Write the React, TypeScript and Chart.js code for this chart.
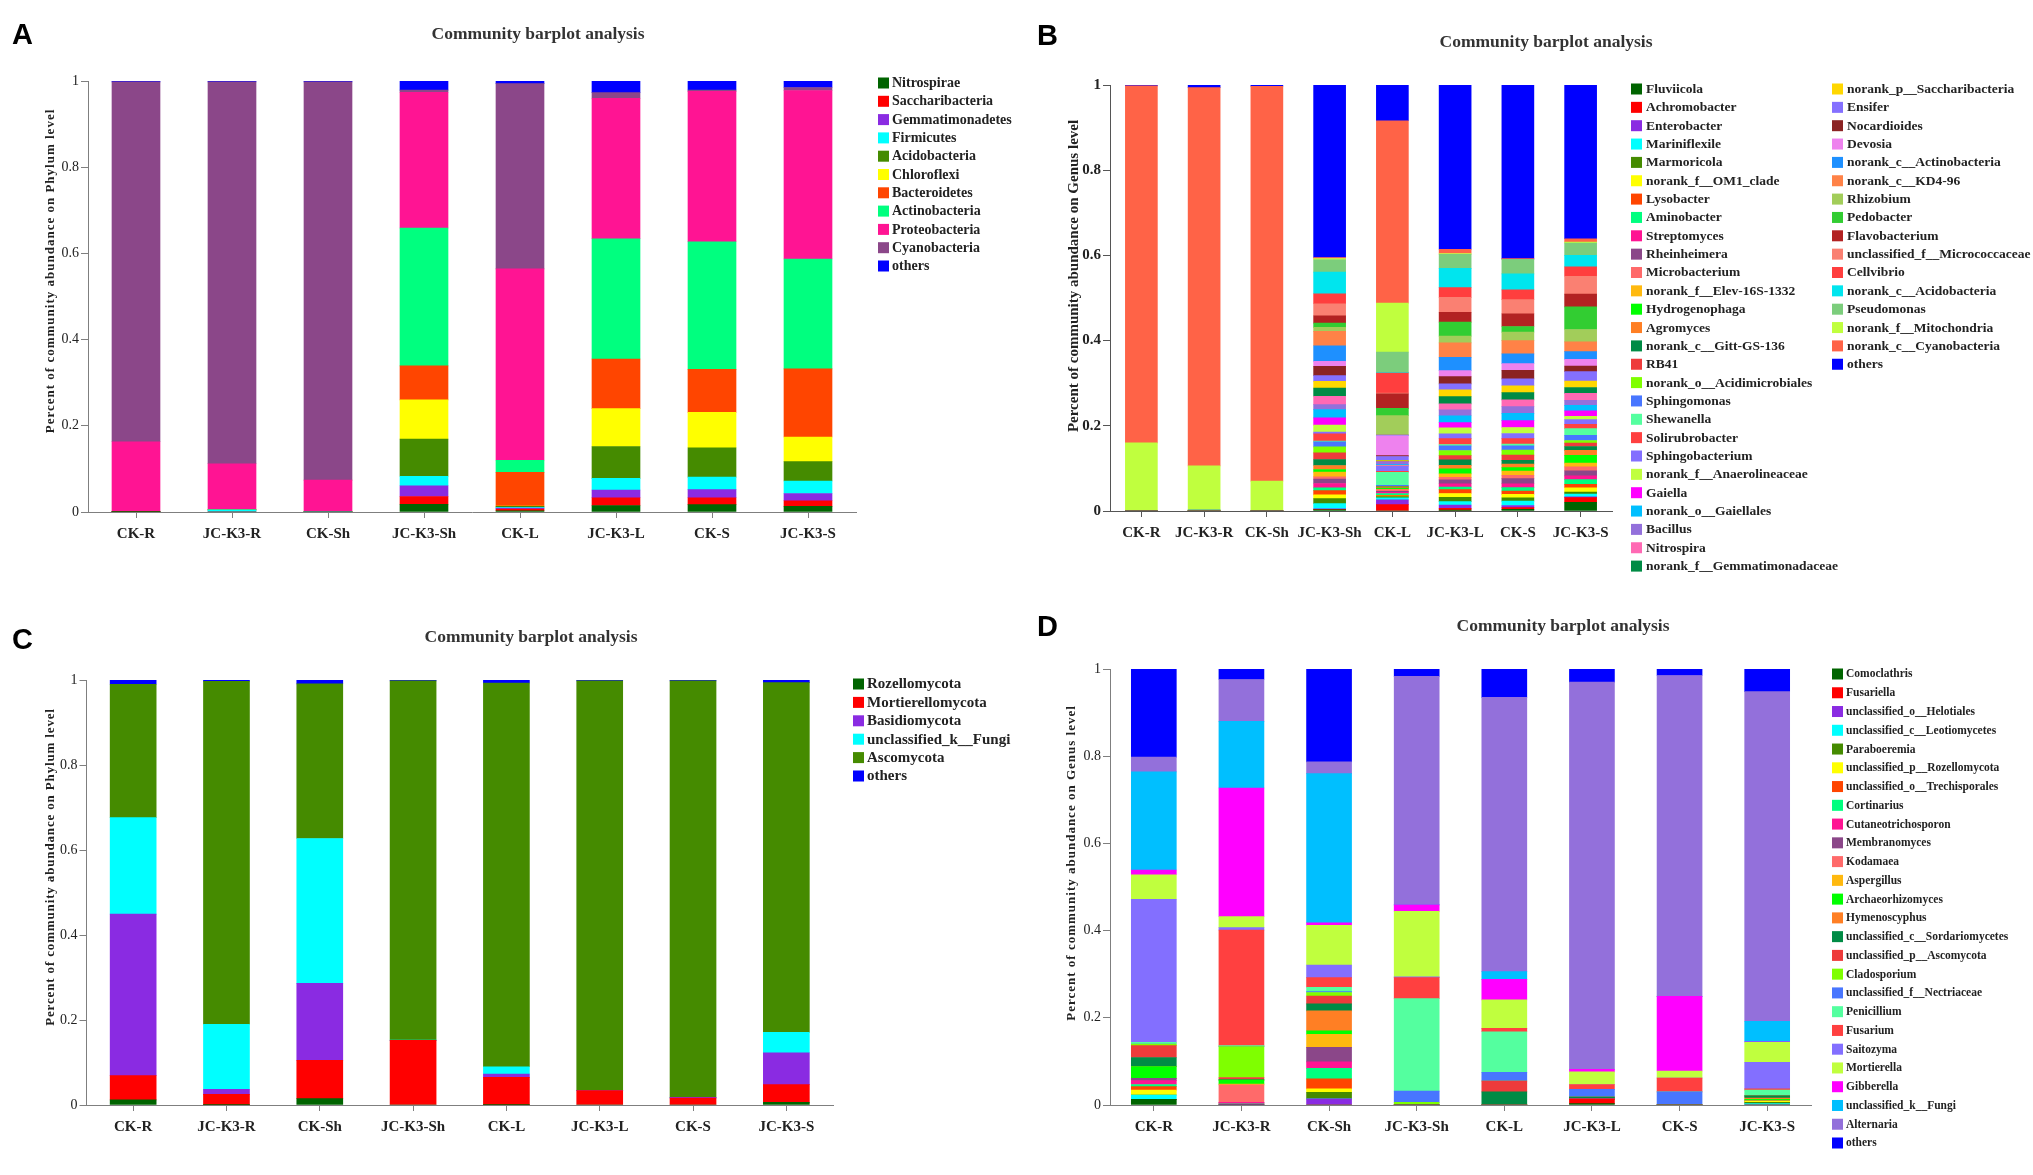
import React, { useEffect, useRef } from "react";
import { Chart, registerables } from "chart.js";
Chart.register(...registerables);

const SERIF = '"Liberation Serif", "Times New Roman", serif';
const SANS = '"Liberation Sans", Arial, sans-serif';

const categories = ["CK-R", "JC-K3-R", "CK-Sh", "JC-K3-Sh", "CK-L", "JC-K3-L", "CK-S", "JC-K3-S"];
const chartTitle = "Community barplot analysis";

// ---------- Panel A (bacteria, phylum) ----------
const aNitrospirae = [0.001, 0, 0, 0.018, 0.003, 0.015, 0.017, 0.013];
const aSaccharibacteria = [0, 0, 0, 0.018, 0.004, 0.018, 0.016, 0.013];
const aGemmatimonadetes = [0, 0, 0, 0.025, 0.002, 0.018, 0.019, 0.017];
const aFirmicutes = [0, 0.005, 0.001, 0.022, 0.002, 0.027, 0.029, 0.029];
const aAcidobacteria = [0, 0, 0, 0.086, 0.002, 0.074, 0.068, 0.045];
const aChloroflexi = [0, 0, 0, 0.091, 0.001, 0.088, 0.082, 0.057];
const aBacteroidetes = [0, 0, 0, 0.079, 0.078, 0.115, 0.1, 0.158];
const aActinobacteria = [0, 0, 0, 0.32, 0.028, 0.279, 0.296, 0.255];
const aProteobacteria = [0.162, 0.107, 0.073, 0.315, 0.444, 0.326, 0.349, 0.391];
const aCyanobacteria = [0.835, 0.886, 0.924, 0.005, 0.43, 0.013, 0.003, 0.007];
const aOthers = [0.002, 0.002, 0.002, 0.021, 0.006, 0.027, 0.021, 0.015];

// ---------- Panel B (bacteria, genus) ----------
const bFluviicola = [0, 0, 0, 0.003, 0, 0.002, 0.004, 0.0205];
const bAchromobacter = [0, 0, 0, 0.001, 0.015, 0.004, 0.004, 0.011];
const bEnterobacter = [0, 0, 0, 0.001, 0.011, 0.008, 0.005, 0.002];
const bMariniflexile = [0, 0, 0, 0.0125, 0.005, 0.008, 0.01, 0.006];
const bMarmoricola = [0, 0, 0, 0.0117, 0.003, 0.01, 0.008, 0.005];
const bOM1 = [0, 0, 0, 0.0086, 0.001, 0.009, 0.008, 0.01];
const bLysobacter = [0, 0, 0, 0.0102, 0.002, 0.009, 0.008, 0.008];
const bAminobacter = [0, 0, 0, 0.0063, 0.004, 0.006, 0.008, 0.011];
const bStreptomyces = [0, 0, 0, 0.0102, 0.003, 0.008, 0.009, 0.009];
const bRheinheimera = [0, 0, 0, 0.0102, 0.002, 0.009, 0.012, 0.012];
const bMicrobacterium = [0, 0, 0, 0.0055, 0.004, 0.006, 0.008, 0.009];
const bElev = [0, 0, 0, 0.011, 0.001, 0.008, 0.01, 0.009];
const bHydrogenophaga = [0, 0, 0, 0.0063, 0.002, 0.012, 0.008, 0.018];
const bAgromyces = [0, 0, 0, 0.0094, 0.002, 0.008, 0.008, 0.012];
const bGitt = [0, 0, 0, 0.014, 0.001, 0.013, 0.009, 0.009];
const bRB41 = [0, 0, 0, 0.0156, 0.001, 0.01, 0.012, 0.008];
const bAcidimicrobiales = [0, 0, 0, 0.014, 0.001, 0.012, 0.012, 0.006];
const bSphingomonas = [0, 0, 0, 0.0117, 0.002, 0.011, 0.01, 0.012];
const bShewanella = [0, 0, 0, 0.002, 0.031, 0.003, 0.004, 0.016];
const bSolirubrobacter = [0, 0, 0, 0.0168, 0.002, 0.014, 0.013, 0.01];
const bSphingobacterium = [0, 0, 0, 0.004, 0.012, 0.011, 0.012, 0.011];
const bAnaerolineaceae = [0, 0, 0, 0.0164, 0.001, 0.014, 0.014, 0.008];
const bGaiella = [0, 0, 0, 0.0172, 0.001, 0.0125, 0.016, 0.0125];
const bGaiellales = [0, 0, 0, 0.0195, 0.002, 0.016, 0.017, 0.013];
const bBacillus = [0, 0, 0, 0.0117, 0.006, 0.014, 0.016, 0.012];
const bNitrospira = [0, 0, 0, 0.0195, 0.001, 0.014, 0.016, 0.016];
const bGemmatimonadaceae = [0, 0, 0, 0.0195, 0.001, 0.017, 0.017, 0.014];
const bSaccharibacteria = [0, 0, 0, 0.0156, 0.002, 0.016, 0.016, 0.015];
const bEnsifer = [0, 0, 0, 0.0133, 0.009, 0.014, 0.016, 0.022];
const bNocardioides = [0, 0, 0, 0.0219, 0.002, 0.017, 0.02, 0.013];
const bDevosia = [0, 0, 0, 0.0117, 0.047, 0.014, 0.016, 0.016];
const bActinobacteria = [0, 0, 0, 0.0367, 0.001, 0.031, 0.023, 0.018];
const bKD496 = [0, 0, 0, 0.0336, 0.001, 0.034, 0.031, 0.023];
const bRhizobium = [0, 0, 0, 0.0094, 0.045, 0.016, 0.02, 0.029];
const bPedobacter = [0, 0, 0, 0.0102, 0.017, 0.033, 0.013, 0.053];
const bFlavobacterium = [0, 0, 0, 0.0172, 0.034, 0.023, 0.03, 0.03];
const bMicrococcaceae = [0, 0, 0, 0.0281, 0.002, 0.035, 0.033, 0.042];
const bCellvibrio = [0, 0, 0, 0.0235, 0.047, 0.023, 0.023, 0.022];
const bAcidobacteria = [0, 0, 0, 0.0508, 0.001, 0.045, 0.0375, 0.027];
const bPseudomonas = [0, 0.004, 0, 0.0289, 0.048, 0.033, 0.034, 0.029];
const bMitochondria = [0.16, 0.102, 0.07, 0.0031, 0.115, 0.002, 0, 0.002];
const bCyanobacteria = [0.838, 0.888, 0.927, 0.0023, 0.428, 0.01, 0.002, 0.008];
const bOthers = [0.002, 0.006, 0.003, 0.405, 0.084, 0.385, 0.4075, 0.361];

// ---------- Panel C (fungi, phylum) ----------
const cRozellomycota = [0.012, 0.001, 0.015, 0, 0.001, 0, 0, 0.006];
const cMortierellomycota = [0.057, 0.024, 0.09, 0.152, 0.064, 0.034, 0.016, 0.042];
const cBasidiomycota = [0.38, 0.012, 0.181, 0, 0.008, 0, 0.002, 0.075];
const cUnclassifiedFungi = [0.227, 0.153, 0.341, 0.001, 0.017, 0, 0, 0.048];
const cAscomycota = [0.314, 0.807, 0.364, 0.845, 0.903, 0.964, 0.98, 0.823];
const cOthers = [0.009, 0.002, 0.009, 0.002, 0.007, 0.002, 0.002, 0.006];

// ---------- Panel D (fungi, genus) ----------
const dComoclathris = [0.013, 0, 0, 0, 0, 0.003, 0, 0];
const dFusariella = [0, 0, 0, 0, 0, 0.011, 0, 0];
const dHelotiales = [0, 0.002, 0.014, 0, 0, 0, 0, 0];
const dLeotiomycetes = [0.01, 0, 0, 0, 0, 0, 0, 0.003];
const dParaboeremia = [0, 0, 0.015, 0, 0, 0, 0, 0.003];
const dRozellomycota = [0.011, 0, 0.008, 0, 0, 0, 0, 0.003];
const dTrechisporales = [0.008, 0, 0.023, 0, 0, 0, 0, 0];
const dCortinarius = [0.005, 0, 0.024, 0, 0, 0, 0, 0];
const dCutaneotrichosporon = [0.009, 0.004, 0.015, 0, 0, 0, 0, 0];
const dMembranomyces = [0.005, 0, 0.033, 0, 0, 0, 0, 0];
const dKodamaea = [0, 0.04, 0, 0, 0, 0, 0, 0];
const dAspergillus = [0, 0.002, 0.03, 0, 0, 0, 0, 0];
const dArchaeorhizomyces = [0.027, 0.009, 0.008, 0, 0, 0, 0, 0.004];
const dHymenoscyphus = [0, 0, 0.046, 0, 0, 0, 0, 0.003];
const dSordariomycetes = [0.021, 0.002, 0.016, 0, 0.03, 0.004, 0, 0.005];
const dAscomycota = [0.027, 0.004, 0.018, 0, 0.025, 0, 0, 0];
const dCladosporium = [0.004, 0.071, 0.008, 0.006, 0, 0, 0, 0];
const dNectriaceae = [0, 0, 0.002, 0.026, 0.02, 0.018, 0.03, 0];
const dPenicillium = [0.004, 0.002, 0.01, 0.212, 0.093, 0, 0, 0.013];
const dFusarium = [0, 0.265, 0.022, 0.048, 0.008, 0.011, 0.032, 0.003];
const dSaitozyma = [0.328, 0.006, 0.029, 0.002, 0, 0, 0, 0.061];
const dMortierella = [0.056, 0.025, 0.091, 0.15, 0.065, 0.029, 0.016, 0.046];
const dGibberella = [0.011, 0.295, 0.006, 0.015, 0.047, 0.006, 0.171, 0.001];
const dUnclassifiedFungi = [0.225, 0.153, 0.342, 0, 0.018, 0, 0, 0.047];
const dAlternaria = [0.034, 0.096, 0.027, 0.524, 0.629, 0.888, 0.736, 0.756];
const dOthers = [0.202, 0.024, 0.213, 0.017, 0.064, 0.03, 0.014, 0.052];

type Series = { label: string; color: string; data: number[] };

const seriesA: Series[] = [
  { label: "Nitrospirae", color: "#006400", data: aNitrospirae },
  { label: "Saccharibacteria", color: "#FF0000", data: aSaccharibacteria },
  { label: "Gemmatimonadetes", color: "#8A2BE2", data: aGemmatimonadetes },
  { label: "Firmicutes", color: "#00FFFF", data: aFirmicutes },
  { label: "Acidobacteria", color: "#458B00", data: aAcidobacteria },
  { label: "Chloroflexi", color: "#FFFF00", data: aChloroflexi },
  { label: "Bacteroidetes", color: "#FF4500", data: aBacteroidetes },
  { label: "Actinobacteria", color: "#00FF7F", data: aActinobacteria },
  { label: "Proteobacteria", color: "#FF1493", data: aProteobacteria },
  { label: "Cyanobacteria", color: "#8B4789", data: aCyanobacteria },
  { label: "others", color: "#0000FF", data: aOthers },
];

const seriesB: Series[] = [
  { label: "Fluviicola", color: "#006400", data: bFluviicola },
  { label: "Achromobacter", color: "#FF0000", data: bAchromobacter },
  { label: "Enterobacter", color: "#8A2BE2", data: bEnterobacter },
  { label: "Mariniflexile", color: "#00FFFF", data: bMariniflexile },
  { label: "Marmoricola", color: "#458B00", data: bMarmoricola },
  { label: "norank_f__OM1_clade", color: "#FFFF00", data: bOM1 },
  { label: "Lysobacter", color: "#FF4500", data: bLysobacter },
  { label: "Aminobacter", color: "#00FF7F", data: bAminobacter },
  { label: "Streptomyces", color: "#FF1493", data: bStreptomyces },
  { label: "Rheinheimera", color: "#8B4789", data: bRheinheimera },
  { label: "Microbacterium", color: "#FF6A6A", data: bMicrobacterium },
  { label: "norank_f__Elev-16S-1332", color: "#FFB90F", data: bElev },
  { label: "Hydrogenophaga", color: "#00FF00", data: bHydrogenophaga },
  { label: "Agromyces", color: "#FF7F24", data: bAgromyces },
  { label: "norank_c__Gitt-GS-136", color: "#008B45", data: bGitt },
  { label: "RB41", color: "#EE3B3B", data: bRB41 },
  { label: "norank_o__Acidimicrobiales", color: "#7FFF00", data: bAcidimicrobiales },
  { label: "Sphingomonas", color: "#4876FF", data: bSphingomonas },
  { label: "Shewanella", color: "#54FF9F", data: bShewanella },
  { label: "Solirubrobacter", color: "#FF4040", data: bSolirubrobacter },
  { label: "Sphingobacterium", color: "#836FFF", data: bSphingobacterium },
  { label: "norank_f__Anaerolineaceae", color: "#C0FF3E", data: bAnaerolineaceae },
  { label: "Gaiella", color: "#FF00FF", data: bGaiella },
  { label: "norank_o__Gaiellales", color: "#00BFFF", data: bGaiellales },
  { label: "Bacillus", color: "#9370DB", data: bBacillus },
  { label: "Nitrospira", color: "#FF69B4", data: bNitrospira },
  { label: "norank_f__Gemmatimonadaceae", color: "#008B45", data: bGemmatimonadaceae },
  { label: "norank_p__Saccharibacteria", color: "#FFD700", data: bSaccharibacteria },
  { label: "Ensifer", color: "#8470FF", data: bEnsifer },
  { label: "Nocardioides", color: "#8B2323", data: bNocardioides },
  { label: "Devosia", color: "#EE82EE", data: bDevosia },
  { label: "norank_c__Actinobacteria", color: "#1E90FF", data: bActinobacteria },
  { label: "norank_c__KD4-96", color: "#FF8247", data: bKD496 },
  { label: "Rhizobium", color: "#A2CD5A", data: bRhizobium },
  { label: "Pedobacter", color: "#32CD32", data: bPedobacter },
  { label: "Flavobacterium", color: "#B22222", data: bFlavobacterium },
  { label: "unclassified_f__Micrococcaceae", color: "#FA8072", data: bMicrococcaceae },
  { label: "Cellvibrio", color: "#FF3E3E", data: bCellvibrio },
  { label: "norank_c__Acidobacteria", color: "#00E5EE", data: bAcidobacteria },
  { label: "Pseudomonas", color: "#7CCD7C", data: bPseudomonas },
  { label: "norank_f__Mitochondria", color: "#C0FF3E", data: bMitochondria },
  { label: "norank_c__Cyanobacteria", color: "#FF6347", data: bCyanobacteria },
  { label: "others", color: "#0000FF", data: bOthers },
];

const seriesC: Series[] = [
  { label: "Rozellomycota", color: "#006400", data: cRozellomycota },
  { label: "Mortierellomycota", color: "#FF0000", data: cMortierellomycota },
  { label: "Basidiomycota", color: "#8A2BE2", data: cBasidiomycota },
  { label: "unclassified_k__Fungi", color: "#00FFFF", data: cUnclassifiedFungi },
  { label: "Ascomycota", color: "#458B00", data: cAscomycota },
  { label: "others", color: "#0000FF", data: cOthers },
];

const seriesD: Series[] = [
  { label: "Comoclathris", color: "#006400", data: dComoclathris },
  { label: "Fusariella", color: "#FF0000", data: dFusariella },
  { label: "unclassified_o__Helotiales", color: "#8A2BE2", data: dHelotiales },
  { label: "unclassified_c__Leotiomycetes", color: "#00FFFF", data: dLeotiomycetes },
  { label: "Paraboeremia", color: "#458B00", data: dParaboeremia },
  { label: "unclassified_p__Rozellomycota", color: "#FFFF00", data: dRozellomycota },
  { label: "unclassified_o__Trechisporales", color: "#FF4500", data: dTrechisporales },
  { label: "Cortinarius", color: "#00FF7F", data: dCortinarius },
  { label: "Cutaneotrichosporon", color: "#FF1493", data: dCutaneotrichosporon },
  { label: "Membranomyces", color: "#8B4789", data: dMembranomyces },
  { label: "Kodamaea", color: "#FF6A6A", data: dKodamaea },
  { label: "Aspergillus", color: "#FFB90F", data: dAspergillus },
  { label: "Archaeorhizomyces", color: "#00FF00", data: dArchaeorhizomyces },
  { label: "Hymenoscyphus", color: "#FF7F24", data: dHymenoscyphus },
  { label: "unclassified_c__Sordariomycetes", color: "#008B45", data: dSordariomycetes },
  { label: "unclassified_p__Ascomycota", color: "#EE3B3B", data: dAscomycota },
  { label: "Cladosporium", color: "#7FFF00", data: dCladosporium },
  { label: "unclassified_f__Nectriaceae", color: "#4876FF", data: dNectriaceae },
  { label: "Penicillium", color: "#54FF9F", data: dPenicillium },
  { label: "Fusarium", color: "#FF4040", data: dFusarium },
  { label: "Saitozyma", color: "#836FFF", data: dSaitozyma },
  { label: "Mortierella", color: "#C0FF3E", data: dMortierella },
  { label: "Gibberella", color: "#FF00FF", data: dGibberella },
  { label: "unclassified_k__Fungi", color: "#00BFFF", data: dUnclassifiedFungi },
  { label: "Alternaria", color: "#9370DB", data: dAlternaria },
  { label: "others", color: "#0000FF", data: dOthers },
];

type Panel = {
  letter: string;
  yTitle: string;
  box: [number, number, number, number];
  area: [number, number, number, number];
  bar: number;
  series: Series[];
  letterPos: [number, number];
  titlePos: [number, number];
  yTitlePos: [number, number];
  yTitleSize: number;
  yTitleSpacing: number;
  tickSize: number;
  tickBold: boolean;
  axisColor: string;
  legend: { x: number; y: number; dy: number; dx: number; size: number; perCol: number; colDx: number };
};

const panels: Panel[] = [
  {
    letter: "A",
    yTitle: "Percent of community abundance on Phylum level",
    box: [0, 0, 1016, 587],
    area: [88, 856, 81, 512],
    bar: 48,
    series: seriesA,
    letterPos: [12, 44],
    titlePos: [538, 34],
    yTitlePos: [51, 271],
    yTitleSize: 13,
    yTitleSpacing: 1,
    tickSize: 14,
    tickBold: false,
    axisColor: "#7f7f7f",
    legend: { x: 878, y: 83, dy: 18.3, dx: 14, size: 14, perCol: 30, colDx: 0 },
  },
  {
    letter: "B",
    yTitle: "Percent of community abundance on Genus level",
    box: [1016, 0, 1017, 587],
    area: [1110, 1612, 85, 511],
    bar: 32,
    series: seriesB,
    letterPos: [1037, 45],
    titlePos: [1546, 42],
    yTitlePos: [1074, 276],
    yTitleSize: 15,
    yTitleSpacing: 0,
    tickSize: 15,
    tickBold: true,
    axisColor: "#555555",
    legend: { x: 1631, y: 89, dy: 18.35, dx: 15, size: 13.5, perCol: 27, colDx: 201 },
  },
  {
    letter: "C",
    yTitle: "Percent of community abundance on Phylum level",
    box: [0, 587, 1016, 588],
    area: [86.5, 833, 680, 1105],
    bar: 46,
    series: seriesC,
    letterPos: [12, 649],
    titlePos: [531, 637],
    yTitlePos: [51, 867],
    yTitleSize: 13,
    yTitleSpacing: 0.85,
    tickSize: 14,
    tickBold: false,
    axisColor: "#7f7f7f",
    legend: { x: 853, y: 684, dy: 18.4, dx: 14, size: 15, perCol: 30, colDx: 0 },
  },
  {
    letter: "D",
    yTitle: "Percent of community abundance on Genus level",
    box: [1016, 587, 1017, 588],
    area: [1110, 1811, 669, 1105],
    bar: 45,
    series: seriesD,
    letterPos: [1037, 636],
    titlePos: [1563, 626],
    yTitlePos: [1072, 863],
    yTitleSize: 13,
    yTitleSpacing: 1,
    tickSize: 14,
    tickBold: false,
    axisColor: "#7f7f7f",
    legend: { x: 1832, y: 674, dy: 18.76, dx: 14, size: 11.5, perCol: 30, colDx: 0 },
  },
];

const Y_WIDTH = 60;
const X_HEIGHT = 40;

function decor(p: Panel) {
  return {
    id: "decor" + p.letter,
    afterDraw(chart: any) {
      const ctx: CanvasRenderingContext2D = chart.ctx;
      const ox = p.box[0];
      const oy = p.box[1];
      ctx.save();
      ctx.fillStyle = "#000";
      ctx.font = `bold 29px ${SANS}`;
      ctx.textAlign = "left";
      ctx.textBaseline = "alphabetic";
      ctx.fillText(p.letter, p.letterPos[0] - ox, p.letterPos[1] - oy);

      ctx.fillStyle = "#333";
      ctx.font = `bold 17.5px ${SERIF}`;
      ctx.textAlign = "center";
      ctx.textBaseline = "middle";
      ctx.fillText(chartTitle, p.titlePos[0] - ox, p.titlePos[1] - oy);

      ctx.save();
      ctx.translate(p.yTitlePos[0] - ox, p.yTitlePos[1] - oy);
      ctx.rotate(-Math.PI / 2);
      ctx.fillStyle = "#222";
      ctx.font = `bold ${p.yTitleSize}px ${SERIF}`;
      (ctx as any).letterSpacing = `${p.yTitleSpacing}px`;
      ctx.textAlign = "center";
      ctx.textBaseline = "middle";
      ctx.fillText(p.yTitle, 0, 0);
      (ctx as any).letterSpacing = "0px";
      ctx.restore();

      const lg = p.legend;
      ctx.font = `bold ${lg.size}px ${SERIF}`;
      ctx.textAlign = "left";
      ctx.textBaseline = "middle";
      chart.data.datasets.forEach((ds: any, i: number) => {
        const col = Math.floor(i / lg.perCol);
        const row = i % lg.perCol;
        const x = lg.x + col * lg.colDx - ox;
        const y = lg.y + row * lg.dy - oy;
        ctx.fillStyle = ds.backgroundColor;
        ctx.fillRect(x, y - 5.5, 11, 11);
        ctx.fillStyle = "#222";
        ctx.fillText(ds.label, x + lg.dx, y + 0.5);
      });
      ctx.restore();
    },
  };
}

function buildConfig(p: Panel): any {
  const [bl, bt, bw, bh] = p.box;
  const [al, ar, at, ab] = p.area;
  const tickFont = { family: SERIF, size: p.tickSize, weight: p.tickBold ? "bold" : "normal" };
  return {
    type: "bar",
    data: {
      labels: categories,
      datasets: p.series.map((s) => ({
        label: s.label,
        data: s.data,
        backgroundColor: s.color,
        borderWidth: 0,
        barThickness: p.bar,
      })),
    },
    options: {
      animation: false,
      responsive: false,
      maintainAspectRatio: false,
      layout: {
        padding: {
          left: al - bl - Y_WIDTH,
          right: bl + bw - ar,
          top: at - bt,
          bottom: bt + bh - ab - X_HEIGHT,
        },
      },
      plugins: {
        legend: { display: false },
        tooltip: { enabled: false },
        title: { display: false },
      },
      scales: {
        x: {
          stacked: true,
          offset: true,
          grid: {
            display: true,
            offset: false,
            drawOnChartArea: false,
            drawTicks: true,
            tickLength: 6,
            color: p.axisColor,
          },
          border: { display: true, color: p.axisColor, width: 1 },
          ticks: {
            font: { family: SERIF, size: 15, weight: "bold" },
            color: "#222",
            padding: 7,
            autoSkip: false,
            maxRotation: 0,
            minRotation: 0,
          },
          afterFit: (s: any) => {
            s.height = X_HEIGHT;
          },
        },
        y: {
          stacked: true,
          min: 0,
          max: 1,
          ticks: {
            stepSize: 0.2,
            font: tickFont,
            color: "#222",
            padding: 2,
            callback: (v: any) => String(Number(Number(v).toFixed(1))),
          },
          grid: {
            display: true,
            drawOnChartArea: false,
            drawTicks: true,
            tickLength: 7,
            color: p.axisColor,
          },
          border: { display: true, color: p.axisColor, width: 1 },
          afterFit: (s: any) => {
            s.width = Y_WIDTH;
          },
        },
      },
    },
    plugins: [decor(p)],
  };
}

function PanelChart({ p }: { p: Panel }) {
  const ref = useRef<HTMLCanvasElement | null>(null);
  useEffect(() => {
    if (!ref.current) return;
    const chart = new Chart(ref.current, buildConfig(p));
    return () => chart.destroy();
  }, [p]);
  const [l, t, w, h] = p.box;
  return (
    <canvas
      ref={ref}
      width={w}
      height={h}
      style={{ position: "absolute", left: l, top: t, width: w, height: h, display: "block" }}
    />
  );
}

export default function App() {
  return (
    <div
      style={{
        position: "absolute",
        left: 0,
        top: 0,
        width: 2033,
        height: 1175,
        background: "#ffffff",
        overflow: "hidden",
      }}
    >
      {panels.map((p) => (
        <PanelChart key={p.letter} p={p} />
      ))}
    </div>
  );
}
